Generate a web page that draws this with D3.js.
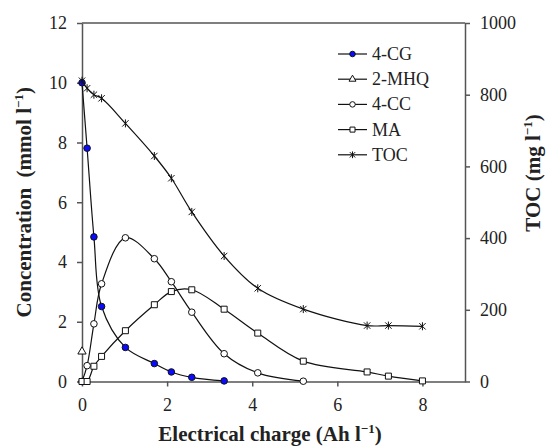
<!DOCTYPE html>
<html>
<head>
<meta charset="utf-8">
<script src="https://cdn.jsdelivr.net/npm/d3@7"></script>
<style>
  body { margin: 0; background: #fff; }
  svg text { font-family: "Liberation Serif", "Times New Roman", serif; }
</style>
</head>
<body>
<svg id="chart" width="547" height="446"></svg>
<script>
// electrical charge (Ah l-1) at each sample
const charge = [0, 0.12, 0.28, 0.46, 1.02, 1.70, 2.10, 2.58, 3.34, 4.13, 5.20, 6.70, 7.20, 8.0];
// concentrations (mmol l-1), in charge order
const cg4 = [10.0, 7.81, 4.84, 2.51, 1.14, 0.60, 0.32, 0.14, 0.02];
const mhq2 = [1.0];
const cc4 = [0, 0.53, 1.93, 3.27, 4.81, 4.11, 3.34, 2.32, 0.93, 0.29, 0.01];
const ma = [0, 0, 0.51, 0.84, 1.70, 2.57, 3.01, 3.07, 2.42, 1.62, 0.68, 0.32, 0.18, 0.02];
// TOC (mg l-1), right axis
const toc = [839, 818, 800, 790, 720, 629, 567, 473, 350, 260, 202, 156, 156, 154];

const xTicks = [0, 2, 4, 6, 8];
const yTicks = [0, 2, 4, 6, 8, 10, 12];
const y2Ticks = [0, 200, 400, 600, 800, 1000];

const margin = {top: 23, right: 82, bottom: 64.5, left: 82};
const width = 547, height = 446;
const serif = '"Liberation Serif", "Times New Roman", serif';

let vis = d3.select('#chart');

let xRange = d3.scaleLinear().domain([0, 9]).range([margin.left, width - margin.right]);
let yRange = d3.scaleLinear().domain([0, 12]).range([height - margin.bottom, margin.top]);
let y2Range = d3.scaleLinear().domain([0, 1000]).range([height - margin.bottom, margin.top]);

const axisColor = '#555';

// asterisk marker used for TOC
const asterisk = {
  draw(ctx, size) {
    const r = Math.sqrt(size) / 2;
    ctx.moveTo(0, -r); ctx.lineTo(0, r);
    ctx.moveTo(-r * 0.8, -r * 0.8); ctx.lineTo(r * 0.8, r * 0.8);
    ctx.moveTo(-r * 0.8, r * 0.8); ctx.lineTo(r * 0.8, -r * 0.8);
  }
};

const series = [
  {name: '4-CG', values: cg4, scale: yRange, type: d3.symbolCircle, size: 34, fill: '#0a0aff'},
  {name: '2-MHQ', values: mhq2, scale: yRange, type: d3.symbolTriangle, size: 30, fill: '#fff'},
  {name: '4-CC', values: cc4, scale: yRange, type: d3.symbolCircle, size: 34, fill: '#fff'},
  {name: 'MA', values: ma, scale: yRange, type: d3.symbolSquare, size: 36, fill: '#fff'},
  {name: 'TOC', values: toc, scale: y2Range, type: asterisk, size: 64, fill: 'none'}
];

// frame: top line
vis.append('line')
  .attr('x1', margin.left).attr('x2', width - margin.right)
  .attr('y1', margin.top).attr('y2', margin.top)
  .attr('stroke', axisColor).attr('stroke-width', 1.5);

let xAxis = d3.axisBottom(xRange).tickValues(xTicks).tickFormat(d3.format('d'))
  .tickSize(5).tickPadding(12).tickSizeOuter(0);
let yAxis = d3.axisLeft(yRange).tickValues(yTicks).tickFormat(d3.format('d'))
  .tickSize(5).tickPadding(10).tickSizeOuter(0);
let y2Axis = d3.axisRight(y2Range).tickValues(y2Ticks).tickFormat(d3.format('d'))
  .tickSize(5).tickPadding(10).tickSizeOuter(0);

function styleAxis(g) {
  g.attr('font-family', serif).attr('font-size', 18);
  g.select('.domain').attr('stroke', axisColor).attr('stroke-width', 1.5);
  g.selectAll('.tick line').attr('stroke', axisColor).attr('stroke-width', 1.5);
  g.selectAll('.tick text').attr('fill', '#222');
}

vis.append('g')
  .attr('transform', `translate(0,${height - margin.bottom})`)
  .call(xAxis).call(styleAxis);

vis.append('g')
  .attr('transform', `translate(${margin.left},0)`)
  .call(yAxis).call(styleAxis);

vis.append('g')
  .attr('transform', `translate(${width - margin.right},0)`)
  .call(y2Axis).call(styleAxis);

// lines and markers
let curve = d3.curveCatmullRom.alpha(0.5);

series.forEach((s) => {
  const pts = s.values.map((v, i) => [charge[i], v]);
  if (pts.length > 1) {
    vis.append('path')
      .attr('d', d3.line()
        .x((d) => xRange(d[0]))
        .y((d) => s.scale(d[1]))
        .curve(curve)(pts))
      .attr('fill', 'none')
      .attr('stroke', '#111')
      .attr('stroke-width', 1.2);
  }
  vis.append('g').selectAll('path')
    .data(pts)
    .join('path')
    .attr('transform', (d) => `translate(${xRange(d[0])},${s.scale(d[1])})`)
    .attr('d', d3.symbol().type(s.type).size(s.size))
    .attr('fill', s.fill)
    .attr('stroke', '#111')
    .attr('stroke-width', 1);
});

// legend
let legend = vis.append('g').attr('transform', 'translate(338,54)');
series.forEach((s, i) => {
  let row = legend.append('g').attr('transform', `translate(0,${i * 25.2})`);
  row.append('line')
    .attr('x1', 0).attr('x2', 29).attr('y1', 0).attr('y2', 0)
    .attr('stroke', '#111').attr('stroke-width', 1.2);
  row.append('path')
    .attr('transform', 'translate(14.5,0)')
    .attr('d', d3.symbol().type(s.type).size(s.size * 0.7))
    .attr('fill', s.fill)
    .attr('stroke', '#111')
    .attr('stroke-width', 1);
  row.append('text')
    .attr('x', 34).attr('y', 6)
    .attr('fill', '#222')
    .attr('font-family', serif)
    .attr('font-size', 18)
    .text(s.name);
});

// axis titles
function unitLabel(el, before, after) {
  el.append('tspan').text(before);
  el.append('tspan').attr('dy', -8).attr('font-size', 13).text('\u22121');
  el.append('tspan').attr('dy', 8).text(after);
}

let xTitle = vis.append('text')
  .attr('text-anchor', 'middle')
  .attr('x', 270).attr('y', 441)
  .attr('font-family', serif).attr('font-size', 21).attr('font-weight', 'bold')
  .attr('fill', '#222');
unitLabel(xTitle, 'Electrical charge (Ah l', ')');

let yTitle = vis.append('text')
  .attr('text-anchor', 'middle')
  .attr('transform', `translate(31,${(margin.top + height - margin.bottom) / 2})rotate(-90)`)
  .attr('font-family', serif).attr('font-size', 21).attr('font-weight', 'bold')
  .attr('fill', '#222');
unitLabel(yTitle, 'Concentration\u00a0 (mmol l', ')');

let y2Title = vis.append('text')
  .attr('text-anchor', 'middle')
  .attr('transform', 'translate(540,173)rotate(-90)')
  .attr('font-family', serif).attr('font-size', 21).attr('font-weight', 'bold')
  .attr('fill', '#222');
unitLabel(y2Title, 'TOC (mg l', ')');
</script>
</body>
</html>
